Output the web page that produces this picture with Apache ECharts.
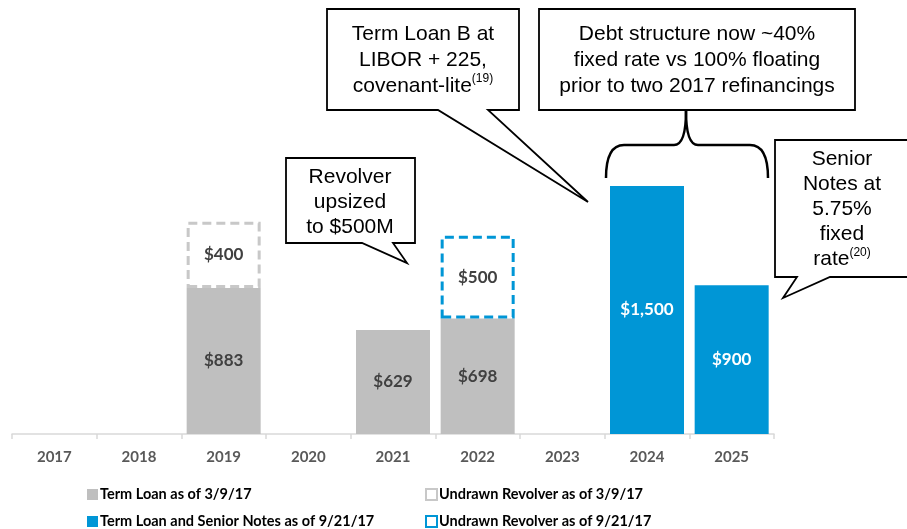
<!DOCTYPE html>
<html>
<head>
<meta charset="utf-8">
<script src="https://cdn.jsdelivr.net/npm/echarts@6/dist/echarts.min.js"></script>
<style>
  html, body { margin: 0; padding: 0; background: #fff; }
  #chart { width: 907px; height: 529px; }
</style>
</head>
<body>
<div id="chart"></div>
<script>
// maturity years
const years = ['2017', '2018', '2019', '2020', '2021', '2022', '2023', '2024', '2025'];
// $M
const termLoanMar = [null, null, 883, null, 629, 698, null, null, null];
const revolverMar = [null, null, 400, null, null, null, null, null, null];
const termLoanSep = [null, null, null, null, null, null, null, 1500, 900];
const revolverSep = [null, null, null, null, null, 500, null, null, null];

const GREY = '#bfbfbf';
const BLUE = '#0096d6';
const FONT = 'Lato';
const NOTE_FONT = 'Liberation Sans';

function money(p) {
  return '$' + p.value.toLocaleString('en-US');
}

const chart = echarts.init(document.getElementById('chart'));

// one callout box with a pointer, points given clockwise
function callout(points) {
  return {
    type: 'polygon',
    shape: { points: points },
    style: { fill: '#fff', stroke: '#000', lineWidth: 1.8 },
    z: 10
  };
}
function note(x, y, text, lh) {
  return {
    type: 'text',
    x: x, y: y,
    style: {
      text: text,
      font: '21px "' + NOTE_FONT + '"',
      fill: '#000',
      align: 'center',
      verticalAlign: 'top',
      lineHeight: lh,
      rich: {
        sup: { fontSize: 12, verticalAlign: 'top', lineHeight: lh, padding: [0, 0, 10, 0], fontFamily: NOTE_FONT }
      }
    },
    z: 11
  };
}
// bracket pieces
const bracketStyle = { fill: 'none', stroke: '#000', lineWidth: 2.5 };
function curve(x1, y1, cx, cy, x2, y2) {
  return { type: 'bezierCurve', shape: { x1: x1, y1: y1, cpx1: cx, cpy1: cy, x2: x2, y2: y2 }, style: bracketStyle, z: 10 };
}
function seg(x1, y1, x2, y2) {
  return { type: 'line', shape: { x1: x1, y1: y1, x2: x2, y2: y2 }, style: bracketStyle, z: 10 };
}

function legend(left, top, name) {
  return {
    left: left, top: top,
    data: [name],
    icon: 'rect',
    itemWidth: 11, itemHeight: 11, itemGap: 3,
    selectedMode: false,
    textStyle: { fontFamily: FONT, fontWeight: 'bold', fontSize: 14.5, color: '#000', padding: [0, 0, 0, -3] }
  };
}

const option = {
  animation: false,
  grid: { left: 12, right: 133, top: 37, bottom: 95 },
  legend: [
    legend(82, 482, 'Term Loan as of 3/9/17'),
    legend(420, 482, 'Undrawn Revolver as of 3/9/17'),
    legend(82, 509, 'Term Loan and Senior Notes as of 9/21/17'),
    legend(420, 509, 'Undrawn Revolver as of 9/21/17')
  ],
  xAxis: {
    type: 'category',
    data: years,
    axisLine: { lineStyle: { color: '#d9d9d9', width: 1.5 } },
    axisTick: { show: true, length: 5, lineStyle: { color: '#d9d9d9', width: 1.5 } },
    axisLabel: { fontFamily: FONT, fontWeight: 'bold', fontSize: 15, color: '#595959', margin: 16 }
  },
  yAxis: { type: 'value', min: 0, max: 2400, show: false },
  series: [
    {
      name: 'Term Loan as of 3/9/17', type: 'bar', stack: 'debt', barWidth: 74,
      data: termLoanMar,
      itemStyle: { color: GREY },
      label: { show: true, position: 'inside', formatter: money, fontFamily: FONT, fontWeight: 'bold', fontSize: 17, color: '#404040' }
    },
    {
      name: 'Undrawn Revolver as of 3/9/17', type: 'bar', stack: 'debt', barWidth: 74,
      data: revolverMar,
      itemStyle: { color: '#fff', borderColor: '#c8c8c8', borderWidth: 3, borderType: [9, 5] },
      label: { show: true, position: 'inside', formatter: money, fontFamily: FONT, fontWeight: 'bold', fontSize: 17, color: '#404040' }
    },
    {
      name: 'Term Loan and Senior Notes as of 9/21/17', type: 'bar', stack: 'debt', barWidth: 74,
      data: termLoanSep,
      itemStyle: { color: BLUE },
      label: { show: true, position: 'inside', formatter: money, fontFamily: FONT, fontWeight: 'bold', fontSize: 17, color: '#fff' }
    },
    {
      name: 'Undrawn Revolver as of 9/21/17', type: 'bar', stack: 'debt', barWidth: 74,
      data: revolverSep,
      itemStyle: { color: '#fff', borderColor: BLUE, borderWidth: 3, borderType: [9, 5] },
      label: { show: true, position: 'inside', formatter: money, fontFamily: FONT, fontWeight: 'bold', fontSize: 17, color: '#404040' }
    }
  ],
  graphic: [
    // Term Loan B callout
    callout([[327, 9], [519, 9], [519, 110], [488, 110], [588, 202], [438, 110], [327, 110]]),
    note(423, 21, 'Term Loan B at\nLIBOR + 225,\ncovenant-lite{sup|(19)}', 26),
    // debt structure box
    callout([[539, 9], [855, 9], [855, 110], [539, 110]]),
    note(697, 21, 'Debt structure now ~40%\nfixed rate vs 100% floating\nprior to two 2017 refinancings', 26),
    // bracket over 2024-2025
    curve(606, 178, 606, 145, 624, 145),
    seg(624, 145, 674, 145),
    curve(674, 145, 686, 145, 686, 111),
    curve(686, 111, 686, 145, 698, 145),
    seg(698, 145, 750, 145),
    curve(750, 145, 768, 145, 768, 178),
    // Senior notes callout
    callout([[775, 140], [912, 140], [912, 277], [830, 277], [783, 298], [797, 277], [775, 277]]),
    note(842, 147, 'Senior\nNotes at\n5.75%\nfixed\nrate{sup|(20)}', 25),
    // Revolver callout
    callout([[286, 158], [415, 158], [415, 243], [393, 243], [407, 263], [362, 243], [286, 243]]),
    note(350, 165, 'Revolver\nupsized\nto $500M', 25)
  ]
};

chart.setOption(option);
</script>
</body>
</html>
